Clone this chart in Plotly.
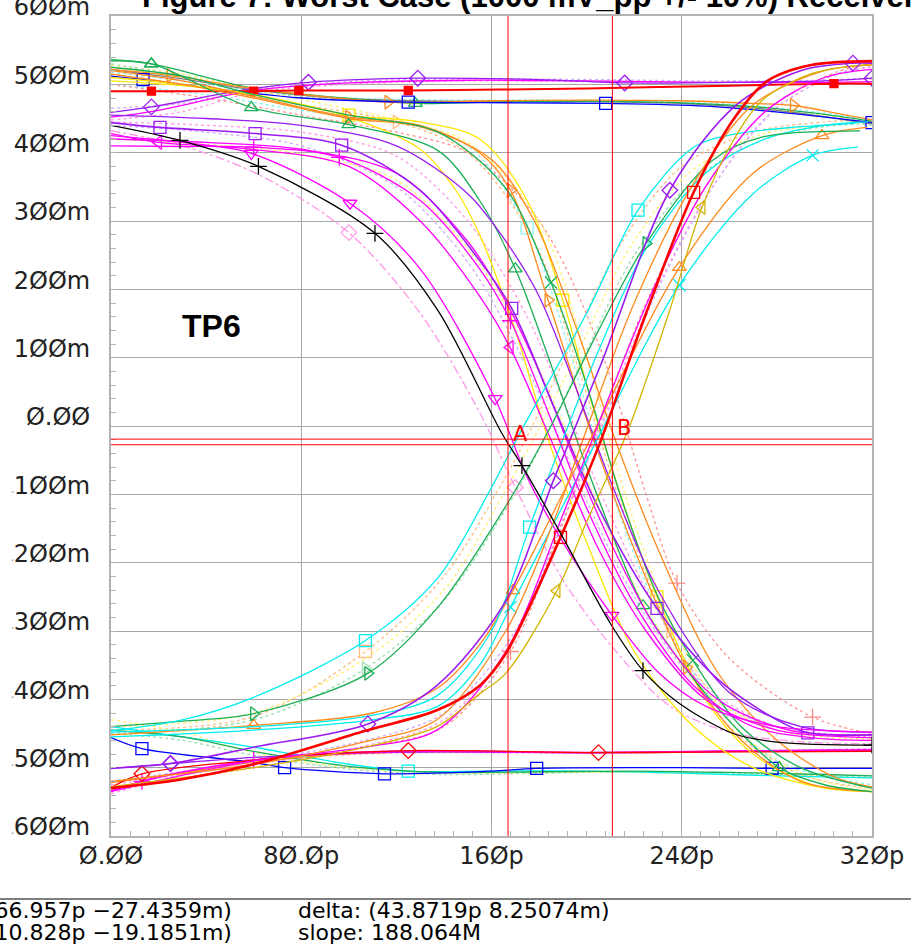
import plotly.graph_objects as go

# ---------------- axes ----------------
time_ticks = [0, 80, 160, 240, 320]
time_labels = ["Ø.ØØ", "8Ø.Øp", "16Øp", "24Øp", "32Øp"]
volt_ticks = [600, 500, 400, 300, 200, 100, 0, -100, -200, -300, -400, -500, -600]
volt_labels = ["6ØØm", "5ØØm", "4ØØm", "3ØØm", "2ØØm", "1ØØm", "Ø.ØØ",
               "-1ØØm", "-2ØØm", "-3ØØm", "-4ØØm", "-5ØØm", "-6ØØm"]

# ---------------- cursors ----------------
cursor_names = ["A", "B"]
cursor_t = [166.957, 210.828]
cursor_v = [-27.4359, -19.1851]
readout_a = "(166.957p −27.4359m)"
readout_b = "(210.828p −19.1851m)"
readout_delta = "delta: (43.8719p 8.25074m)"
readout_slope = "slope: 188.064M"

# ---------------- waveforms (t in ps, v in mV) ----------------
# high level, drifting down
hd_green_t = [0, 17, 60, 95, 128, 160, 200, 240, 275, 300, 320]
hd_green_v = [536, 530, 494, 481, 472, 474, 475, 473, 466, 456, 446]
hd_gray_t = [0, 30, 60, 95, 125, 160, 200, 240, 280, 320]
hd_gray_v = [522, 508, 492, 480, 476, 475, 475, 472, 462, 442]
hd_blue_t = [0, 13.5, 40, 80, 125, 170, 208, 250, 290, 320]
hd_blue_v = [512, 507, 495, 480, 474, 473, 472, 468, 456, 444]
hd_orange_t = [0, 25, 60, 116.5, 160, 200, 240, 270, 287, 305, 320]
hd_orange_v = [522, 513, 494, 474, 476, 477, 476, 472, 469, 458, 448]
hd_lyel_t = [0, 30, 60, 100, 140, 180, 220, 260, 300, 320]
hd_lyel_v = [528, 515, 493, 479, 476, 476, 475, 470, 455, 444]
hd_lgreen_t = [0, 30, 60, 100, 140, 180, 220, 260, 300, 320]
hd_lgreen_v = [530, 512, 490, 478, 475, 475, 474, 468, 452, 440]
hd_lcyan_t = [0, 30, 60, 100, 140, 180, 220, 260, 300, 320]
hd_lcyan_v = [518, 505, 490, 480, 477, 477, 476, 471, 458, 446]

# high level, drifting up
hu_purple_t = [0, 17, 60, 83, 129, 180, 216, 260, 300, 320]
hu_purple_v = [459, 467, 494, 503, 509, 507, 502, 503, 505, 509]
hu_magenta_t = [0, 20, 60, 100, 150, 200, 250, 300, 320]
hu_magenta_v = [452, 462, 491, 502, 506, 505, 503, 503, 504]
hu_red_t = [0, 17, 60, 79, 125, 200, 260, 304, 320]
hu_red_v = [490, 490, 490, 491, 491, 494, 498, 501, 501]
hu_pink_t = [0, 30, 60, 100, 150, 200, 250, 300, 320]
hu_pink_v = [448, 460, 488, 500, 505, 504, 503, 505, 508]
hu_lav_t = [0, 30, 60, 100, 150, 200, 250, 300, 320]
hu_lav_v = [465, 472, 492, 504, 508, 507, 505, 506, 510]

# falling edges, early group
fe_black_t = [0, 29, 62, 111, 137.5, 164.4, 172.8, 190, 210, 223.7, 239, 261.6, 281, 320]
fe_black_v = [440, 418, 380, 282, 169, -11, -58, -163, -289, -358, -406, -450, -463, -467]
fe_mag1_t = [0, 30, 59, 100.5, 130, 161.5, 175, 190, 210.7, 230, 250, 280, 310, 320]
fe_mag1_v = [425, 415, 399, 326, 230, 40, -75, -170, -277, -360, -410, -440, -447, -448]
fe_mag2_t = [0, 20, 59, 100, 130, 155, 167.8, 185, 205, 225, 250, 280, 310, 320]
fe_mag2_v = [428, 415, 405, 380, 300, 190, 115, -20, -180, -300, -400, -445, -455, -456]
fe_mag3_t = [0, 30, 60, 96, 130, 155, 168, 185, 200, 220, 245, 270, 300, 320]
fe_mag3_v = [410, 409, 408, 393, 330, 230, 154, 10, -120, -260, -380, -440, -458, -460]
fe_pur1_t = [0, 20.6, 60.6, 97, 130, 155, 168.5, 186, 205, 229.6, 255, 280, 293, 320]
fe_pur1_v = [444, 437, 428, 411, 345, 242, 172, 30, -120, -267, -370, -430, -449, -452]
fe_pur2_t = [0, 40, 80, 120, 150, 165.7, 180, 195, 210, 230, 260, 290, 320]
fe_pur2_v = [455, 450, 440, 410, 340, 272, 190, 60, -80, -240, -390, -440, -448]
fe_mag4_t = [0, 40, 80, 120, 150, 165.7, 180, 195, 210, 230, 255, 285, 320]
fe_mag4_v = [420, 415, 405, 370, 270, 184, 80, -50, -170, -300, -400, -445, -452]
fe_pink_t = [0, 30, 62, 100, 130, 155, 170, 190, 210, 235, 260, 290, 320]
fe_pink_v = [432, 410, 368, 283, 165, 20, -90, -225, -320, -410, -448, -462, -465]
fe_lav_t = [0, 40, 80, 120, 150, 170, 185, 200, 220, 245, 270, 300, 320]
fe_lav_v = [440, 430, 410, 350, 240, 120, 10, -110, -250, -370, -430, -450, -452]
fe_rose_t = [0, 40, 80, 120, 150, 175, 190, 205, 225, 250, 280, 320]
fe_rose_v = [445, 440, 430, 395, 300, 160, 40, -90, -240, -380, -440, -455]
fe_lyel_t = [0, 40, 80, 120, 150, 172, 188, 204, 224, 250, 280, 320]
fe_lyel_v = [420, 412, 398, 360, 260, 140, 20, -110, -260, -390, -445, -458]

# falling edges, late group
fl_green1_t = [0, 17, 59, 100, 137.5, 155, 170, 185, 200, 223.7, 245, 265, 281, 300, 320]
fl_green1_v = [534, 530, 466, 441, 403, 330, 230, 90, -60, -263, -370, -450, -500, -525, -535]
fl_green2_t = [0, 30, 60, 100, 137.5, 165.7, 185, 200, 215, 230, 244.7, 265, 290, 320]
fl_green2_v = [525, 512, 485, 455, 430, 349, 210, 60, -110, -250, -343, -440, -500, -530]
fl_orange1_t = [0, 30, 60, 100, 130, 155, 168, 183.8, 200, 220, 242, 265, 290, 320]
fl_orange1_v = [520, 505, 482, 452, 440, 400, 345, 184, 10, -180, -353, -460, -520, -535]
fl_orange2_t = [0, 30, 60, 100, 130, 160, 178, 195, 212, 230, 255, 280, 305, 320]
fl_orange2_v = [515, 500, 480, 450, 438, 390, 300, 150, -20, -180, -360, -460, -515, -528]
fl_yel1_t = [0, 30, 60, 100, 130, 155, 175, 190, 205, 229.6, 250, 270, 295, 320]
fl_yel1_v = [510, 500, 485, 455, 445, 420, 330, 184, 0, -250, -400, -480, -525, -535]
fl_yel2_t = [0, 30, 60, 100, 130, 145, 155, 170, 184, 200, 220, 245, 270, 300, 320]
fl_yel2_v = [505, 498, 485, 452, 405, 345, 280, 140, -21, -170, -330, -440, -500, -530, -535]
fl_lcyan_t = [0, 40, 80, 120, 150, 175, 192, 210, 230, 255, 280, 320]
fl_lcyan_v = [500, 485, 462, 445, 410, 290, 120, -90, -270, -410, -490, -525]
fl_lor_t = [0, 40, 80, 120, 150, 178, 196, 214, 235, 260, 290, 320]
fl_lor_v = [515, 495, 470, 445, 400, 270, 90, -110, -300, -440, -510, -530]
fl_lyel_t = [0, 40, 80, 120, 150, 180, 200, 218, 240, 265, 295, 320]
fl_lyel_v = [525, 505, 478, 448, 415, 300, 100, -120, -320, -450, -515, -532]
fl_lred_t = [0, 40, 80, 120, 150, 180, 205, 225, 238, 260, 295, 320]
fl_lred_v = [500, 480, 455, 430, 400, 300, 120, -100, -230, -340, -426, -450]

# rising edges, early group
re_cyan1_t = [0, 30, 60, 107, 137.5, 160, 172, 200, 221.6, 245, 262, 290, 313]
re_cyan1_v = [-446, -430, -397, -314, -222, -90, -10, 165, 316, 408, 427, 438, 443]
re_green_t = [0, 30, 60, 108, 137.5, 165.7, 185, 205, 225, 253, 274, 315]
re_green_v = [-440, -432, -421, -362, -265, -119, 0, 140, 267, 389, 423, 432]
re_cyan2_t = [0, 60, 107, 137, 160, 176, 190, 205, 225, 250, 275, 300, 318]
re_cyan2_v = [-448, -440, -425, -395, -300, -148, -20, 110, 260, 370, 420, 440, 445]
re_cyanx_t = [0, 60, 110, 137.5, 155, 168, 200, 239, 270, 295, 314]
re_cyanx_v = [-455, -445, -430, -410, -350, -265, -50, 206, 340, 396, 408]
re_orange_t = [0, 60, 110, 137.5, 155, 169, 200, 239, 270, 299, 318]
re_orange_v = [-452, -438, -420, -383, -320, -241, -30, 232, 370, 425, 437]
re_lor_t = [0, 60, 107, 140, 165, 180, 195, 215, 240, 270, 300, 320]
re_lor_v = [-445, -425, -330, -220, -80, 20, 130, 270, 380, 430, 445, 448]
re_lyel_t = [0, 60, 107, 140, 165, 182, 198, 218, 243, 272, 300, 320]
re_lyel_v = [-440, -420, -340, -240, -100, 10, 120, 260, 370, 425, 440, 445]
re_lgreen_t = [0, 60, 107, 140, 168, 185, 200, 220, 245, 275, 300, 320]
re_lgreen_v = [-450, -430, -355, -255, -110, 0, 110, 250, 360, 420, 438, 443]

# rising edges, late group
rl_red_t = [0, 30, 60, 107, 137, 155, 166, 189, 206, 225, 245, 262, 276, 294, 320]
rl_red_v = [-530, -517, -495, -446, -416, -380, -333, -163, -21, 165, 342, 450, 505, 528, 534]
rl_olive_t = [0, 60, 107, 137, 155, 166, 187.5, 200, 217, 235, 248.5, 262, 274, 294, 320]
rl_olive_v = [-528, -500, -470, -440, -392, -362, -241, -140, -10, 170, 320, 420, 477, 515, 530]
rl_purple_t = [0, 25, 60, 108, 137, 166, 186, 206, 235, 263, 290, 312, 320]
rl_purple_v = [-501, -494, -470, -436, -380, -256, -80, 90, 345, 470, 520, 531, 531]
rl_orange_t = [0, 60, 107, 137, 166, 185, 200, 220, 245, 270, 300, 320]
rl_orange_v = [-520, -495, -462, -430, -300, -150, -5, 180, 355, 470, 520, 528]
rl_mag_t = [0, 60, 107, 137, 166, 190, 208, 228, 250, 275, 300, 320]
rl_mag_v = [-535, -490, -470, -445, -330, -130, 30, 200, 350, 460, 510, 522]
rl_pink_t = [0, 60, 107, 140, 168, 190, 207, 228, 252, 278, 305, 320]
rl_pink_v = [-525, -495, -468, -430, -320, -140, 10, 190, 345, 460, 515, 525]
rl_lav_t = [0, 60, 107, 140, 170, 192, 210, 230, 255, 280, 305, 320]
rl_lav_v = [-520, -490, -460, -420, -300, -120, 30, 200, 360, 465, 515, 526]
rl_lred_t = [0, 60, 107, 140, 168, 188, 205, 225, 250, 275, 305, 320]
rl_lred_v = [-530, -500, -470, -440, -330, -160, 0, 180, 350, 460, 518, 530]

# low level, drifting down
ld_blue_t = [0, 13, 59, 73, 115, 160, 179, 240, 278, 320]
ld_blue_v = [-456, -472, -492, -500, -509, -505, -501, -500, -501, -501]
ld_cyan_t = [0, 20, 60, 100, 125, 160, 200, 240, 280, 320]
ld_cyan_v = [-440, -450, -470, -495, -505, -505, -505, -508, -512, -515]
ld_green_t = [0, 30, 60, 100, 140, 180, 220, 260, 300, 320]
ld_green_v = [-445, -455, -476, -498, -507, -506, -505, -507, -510, -512]
ld_lyel_t = [0, 30, 60, 100, 140, 180, 220, 260, 300, 320]
ld_lyel_v = [-430, -448, -478, -500, -508, -507, -507, -510, -513, -515]
ld_lgreen_t = [0, 30, 60, 100, 140, 180, 220, 260, 300, 320]
ld_lgreen_v = [-450, -460, -482, -502, -510, -508, -506, -508, -512, -514]

# low level, drifting up
lu_mag_t = [0, 13, 25, 60, 80, 125, 205, 260, 320]
lu_mag_v = [-534, -520, -510, -489, -482, -476, -478, -476, -474]
lu_red_t = [0, 13, 60, 80, 125, 205, 260, 320]
lu_red_v = [-529, -509, -489, -482, -475, -478, -477, -476]
lu_orange_t = [0, 25, 60, 90, 130, 200, 260, 320]
lu_orange_v = [-522, -510, -492, -482, -477, -478, -476, -474]
lu_purple_t = [0, 25, 60, 100, 140, 200, 260, 320]
lu_purple_v = [-501, -494, -485, -479, -477, -478, -476, -474]
lu_pink_t = [0, 25, 60, 90, 130, 200, 260, 320]
lu_pink_v = [-538, -515, -494, -483, -478, -479, -476, -472]

# ---------------- colours ----------------
BLACK = "#000000"
RED = "#ff0000"
MAGENTA = "#ff00ff"
PURPLE = "#9a1cf0"
GREEN = "#1aae55"
CYAN = "#00eeee"
ORANGE = "#ff8a1c"
YELLOW = "#ffe600"
OLIVE = "#d2b400"
GRAY = "#7f7f7f"
BLUE = "#0000ff"
L_PINK = "#ff9ee8"
L_ORANGE = "#ffbf85"
L_YELLOW = "#fff07a"
L_CYAN = "#8ef3f3"
L_LAV = "#d3aefc"
L_GREEN = "#9fe0b0"
L_RED = "#ff8c8c"

# (t, v, colour, width, dash, marker symbol, marker size, marker point indices)
waves = [
    # pastel dotted runs, drawn first
    (hd_lyel_t, hd_lyel_v, L_YELLOW, 1.4, "dot", None, 0, []),
    (hd_lgreen_t, hd_lgreen_v, L_GREEN, 1.4, "dot", None, 0, []),
    (hd_lcyan_t, hd_lcyan_v, L_CYAN, 1.4, "dot", None, 0, []),
    (hu_pink_t, hu_pink_v, L_PINK, 1.4, "dot", None, 0, []),
    (hu_lav_t, hu_lav_v, L_LAV, 1.4, "dot", None, 0, []),
    (fe_pink_t, fe_pink_v, L_PINK, 1.4, "dashdot", "diamond-open", 12, [3, 6]),
    (fe_lav_t, fe_lav_v, L_LAV, 1.4, "dot", None, 0, []),
    (fe_rose_t, fe_rose_v, L_PINK, 1.4, "dot", None, 0, []),
    (fe_lyel_t, fe_lyel_v, L_YELLOW, 1.4, "dot", None, 0, []),
    (fl_lcyan_t, fl_lcyan_v, L_CYAN, 1.4, "dot", "square-open", 12, [5]),
    (fl_lor_t, fl_lor_v, L_ORANGE, 1.4, "dot", "triangle-right-open", 12, [3, 8]),
    (fl_lyel_t, fl_lyel_v, L_YELLOW, 1.4, "dot", None, 0, []),
    (fl_lred_t, fl_lred_v, L_RED, 1.2, "dot", "cross-thin-open", 12, [8, 10]),
    (re_lor_t, re_lor_v, L_ORANGE, 1.4, "dot", "square-open", 12, [2]),
    (re_lyel_t, re_lyel_v, L_YELLOW, 1.4, "dot", None, 0, []),
    (re_lgreen_t, re_lgreen_v, L_GREEN, 1.4, "dot", "triangle-right-open", 12, [2]),
    (rl_pink_t, rl_pink_v, L_PINK, 1.4, "dot", None, 0, []),
    (rl_lav_t, rl_lav_v, L_LAV, 1.4, "dot", None, 0, []),
    (rl_lred_t, rl_lred_v, L_RED, 1.2, "dot", "cross-thin-open", 12, [4]),
    (ld_lyel_t, ld_lyel_v, L_YELLOW, 1.4, "dot", None, 0, []),
    (ld_lgreen_t, ld_lgreen_v, L_GREEN, 1.4, "dot", None, 0, []),
    (lu_pink_t, lu_pink_v, L_PINK, 1.4, "dot", None, 0, []),
    # steady levels
    (hd_gray_t, hd_gray_v, GRAY, 1.3, "solid", None, 0, []),
    (hd_green_t, hd_green_v, GREEN, 1.3, "solid", "triangle-up-open", 12, [1, 4]),
    (hd_orange_t, hd_orange_v, ORANGE, 1.3, "solid", "triangle-right-open", 12, [1, 3, 8]),
    (hd_blue_t, hd_blue_v, BLUE, 1.3, "solid", "square-open", 12, [1, 4, 6, 9]),
    (hu_magenta_t, hu_magenta_v, MAGENTA, 1.3, "solid", None, 0, []),
    (hu_purple_t, hu_purple_v, PURPLE, 1.3, "solid", "diamond-open", 12, [1, 3, 4, 6, 9]),
    (hu_red_t, hu_red_v, RED, 2.0, "solid", "square", 8, [1, 2, 3, 4, 7]),
    (ld_cyan_t, ld_cyan_v, CYAN, 1.3, "solid", "square-open", 12, [4]),
    (ld_green_t, ld_green_v, GREEN, 1.3, "solid", None, 0, []),
    (ld_blue_t, ld_blue_v, BLUE, 1.3, "solid", "square-open", 12, [1, 3, 4, 6, 8]),
    (lu_orange_t, lu_orange_v, ORANGE, 1.3, "solid", None, 0, []),
    (lu_purple_t, lu_purple_v, PURPLE, 1.3, "solid", "diamond-open", 12, [1]),
    (lu_mag_t, lu_mag_v, MAGENTA, 1.8, "solid", "cross-thin-open", 12, [1, 3]),
    (lu_red_t, lu_red_v, RED, 1.3, "solid", "diamond-open", 12, [1, 4, 5]),
    # late falling edges
    (fl_yel2_t, fl_yel2_v, YELLOW, 1.3, "solid", None, 0, []),
    (fl_yel1_t, fl_yel1_v, YELLOW, 1.3, "solid", "square-open", 12, [3, 7, 9]),
    (fl_orange2_t, fl_orange2_v, ORANGE, 1.3, "solid", None, 0, []),
    (fl_orange1_t, fl_orange1_v, ORANGE, 1.3, "solid", "triangle-right-open", 12, [3, 6, 7, 10]),
    (fl_green2_t, fl_green2_v, GREEN, 1.3, "solid", "x-thin-open", 12, [6, 10]),
    (fl_green1_t, fl_green1_v, GREEN, 1.3, "solid", "triangle-up-open", 12, [1, 2, 3, 6, 9, 12]),
    # early falling edges
    (fe_mag4_t, fe_mag4_v, MAGENTA, 1.3, "solid", None, 0, []),
    (fe_pur2_t, fe_pur2_v, PURPLE, 1.3, "solid", None, 0, []),
    (fe_pur1_t, fe_pur1_v, PURPLE, 1.6, "solid", "square-open", 12, [1, 2, 3, 6, 9, 12]),
    (fe_mag3_t, fe_mag3_v, MAGENTA, 1.3, "solid", "cross-thin-open", 12, [2, 3, 6]),
    (fe_mag2_t, fe_mag2_v, MAGENTA, 1.3, "solid", "triangle-left-open", 12, [1, 6]),
    (fe_mag1_t, fe_mag1_v, MAGENTA, 1.3, "solid", "triangle-down-open", 12, [2, 3, 5, 8]),
    # rising edges
    (re_orange_t, re_orange_v, ORANGE, 1.3, "solid", "triangle-up-open", 12, [1, 5, 7, 9]),
    (re_cyanx_t, re_cyanx_v, CYAN, 1.3, "solid", "x-thin-open", 12, [5, 7, 9]),
    (re_cyan2_t, re_cyan2_v, CYAN, 1.3, "solid", "square-open", 12, [5]),
    (re_green_t, re_green_v, GREEN, 1.3, "solid", "triangle-right-open", 12, [2, 3, 8]),
    (re_cyan1_t, re_cyan1_v, CYAN, 1.3, "solid", "square-open", 12, [3, 8]),
    (rl_mag_t, rl_mag_v, MAGENTA, 1.3, "solid", None, 0, []),
    (rl_orange_t, rl_orange_v, ORANGE, 1.3, "solid", None, 0, []),
    (rl_olive_t, rl_olive_v, OLIVE, 1.3, "solid", "triangle-left-open", 12, [6, 10]),
    (rl_purple_t, rl_purple_v, PURPLE, 1.6, "solid", "diamond-open", 12, [1, 3, 6, 8, 11]),
    (rl_red_t, rl_red_v, RED, 2.6, "solid", "square-open", 12, [7, 10]),
    (fe_black_t, fe_black_v, BLACK, 1.3, "solid", "cross-thin-open", 12, [1, 2, 3, 6, 9, 13]),
]

fig = go.Figure()
for t, v, col, w, dash, sym, msize, marks in waves:
    fig.add_trace(go.Scatter(
        x=t, y=v, mode="lines",
        line=dict(color=col, width=w, dash=dash, shape="spline", smoothing=0.9),
        hoverinfo="skip", showlegend=False,
    ))
    if sym and marks:
        fig.add_trace(go.Scatter(
            x=[t[i] for i in marks], y=[v[i] for i in marks], mode="markers",
            marker=dict(symbol=sym, size=msize, color=col, line=dict(color=col, width=1.3)),
            hoverinfo="skip", showlegend=False,
        ))

# cursor cross-hairs
for name, ct, cv in zip(cursor_names, cursor_t, cursor_v):
    fig.add_shape(type="line", xref="x", yref="paper", x0=ct, x1=ct, y0=0, y1=1,
                  line=dict(color=RED, width=1), layer="above")
    fig.add_shape(type="line", xref="paper", yref="y", x0=0, x1=1, y0=cv, y1=cv,
                  line=dict(color=RED, width=1), layer="above")
    fig.add_annotation(x=ct, y=cv, xref="x", yref="y", text=name, showarrow=False,
                       xanchor="left", yanchor="bottom", xshift=3, yshift=-3,
                       font=dict(family="DejaVu Sans", size=21, color=RED))

# geometry of the plot area in page pixels
L, R, T, B = 111, 872, 16, 836
W, H = R - L, B - T


def px(xp):
    return (xp - L) / W


def py(yp):
    return (B - yp) / H


fig.add_annotation(x=29, y=147, xref="x", yref="y", text="<b>TP6</b>", showarrow=False,
                   xanchor="left", yanchor="middle",
                   font=dict(family="Liberation Sans, Arial", size=32, color=BLACK))

fig.add_annotation(x=px(140), y=py(16), xref="paper", yref="paper",
                   text="<b>Figure 7: Worst Case (1000 mV_pp +/- 10%) Receiver</b>",
                   showarrow=False, xanchor="left", yanchor="bottom",
                   font=dict(family="Liberation Sans, Arial", size=31, color=BLACK))

# cursor readout strip
fig.add_shape(type="line", xref="paper", yref="paper", x0=px(0), x1=px(911),
              y0=py(899), y1=py(899), line=dict(color=BLACK, width=1.2))
readout_font = dict(family="DejaVu Sans", size=22, color=BLACK)
fig.add_annotation(x=px(-30), y=py(910), xref="paper", yref="paper", text=readout_a,
                   showarrow=False, xanchor="left", yanchor="middle", font=readout_font)
fig.add_annotation(x=px(-30), y=py(932), xref="paper", yref="paper", text=readout_b,
                   showarrow=False, xanchor="left", yanchor="middle", font=readout_font)
fig.add_annotation(x=px(296), y=py(910), xref="paper", yref="paper", text=readout_delta,
                   showarrow=False, xanchor="left", yanchor="middle", font=readout_font)
fig.add_annotation(x=px(296), y=py(932), xref="paper", yref="paper", text=readout_slope,
                   showarrow=False, xanchor="left", yanchor="middle", font=readout_font)

axis_font = dict(family="DejaVu Sans", size=24, color="#222222")
frame = "#b3b3b3"
grid = "#a6a6a6"
small_minus = "<span style='font-size:7px'>-</span>"

fig.update_xaxes(
    range=[0, 320], tickvals=time_ticks, ticktext=time_labels, tickfont=axis_font,
    showgrid=True, gridcolor=grid, gridwidth=1, zeroline=False, automargin=False,
    showline=True, mirror=True, linecolor=frame, linewidth=2,
    ticks="inside", ticklen=5, tickcolor=frame, ticklabelstandoff=-3,
    ticklabeloverflow="allow",
    minor=dict(dtick=8, ticks="inside", ticklen=5, tickcolor=frame, showgrid=False),
)
fig.update_yaxes(
    range=[-600, 600], tickvals=volt_ticks,
    ticktext=[s.replace("-", small_minus) for s in volt_labels], tickfont=axis_font,
    showgrid=True, gridcolor=grid, gridwidth=1, zeroline=False, automargin=False,
    showline=True, mirror=True, linecolor=frame, linewidth=2,
    ticks="inside", ticklen=5, tickcolor=frame, ticklabelstandoff=14, ticklabelshift=-9,
    ticklabeloverflow="allow",
    minor=dict(dtick=20, ticks="inside", ticklen=5, tickcolor=frame, showgrid=False),
)
fig.update_layout(
    width=911, height=946,
    margin=dict(l=L, r=911 - R, t=T, b=946 - B, autoexpand=False),
    paper_bgcolor="white", plot_bgcolor="white",
    showlegend=False,
)

fig.write_html("out.html")
